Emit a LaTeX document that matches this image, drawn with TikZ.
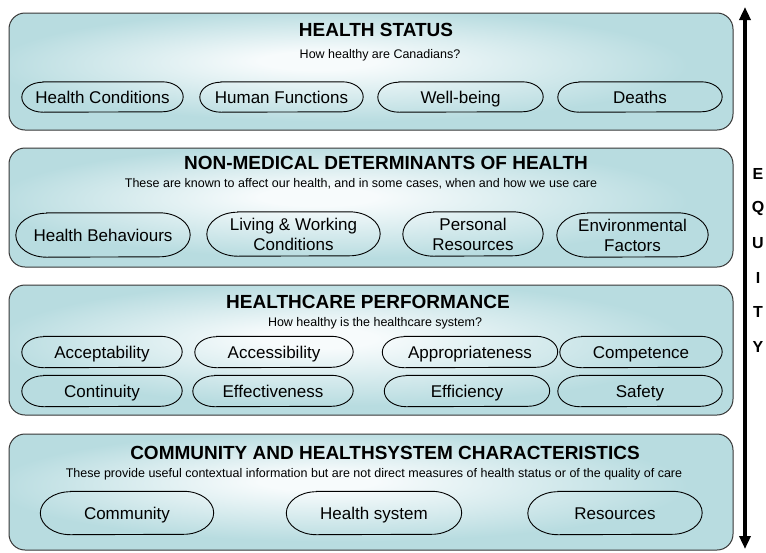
\documentclass[tikz,border=0pt]{standalone}
\usepackage{fontspec}
\setmainfont{Liberation Sans}
\usetikzlibrary{arrows.meta}
\definecolor{boxc}{RGB}{184,220,224}
\definecolor{glowc}{RGB}{247,251,252}
\definecolor{edgec}{RGB}{55,55,55}
\pgfdeclareradialshading{boxglow}{\pgfpoint{-4bp}{5bp}}{color(0bp)=(glowc); color(4bp)=(glowc); color(24bp)=(boxc); color(50bp)=(boxc)}
\tikzset{
  panel/.style={draw=edgec, line width=1pt, rounded corners=16pt, shade, shading=boxglow, inner sep=0pt},
  ptitle/.style={font=\fontsize{19}{22}\selectfont\bfseries, inner sep=0pt},
  psub/.style={font=\fontsize{12.5}{15}\selectfont, inner sep=0pt},
  captext/.style={font=\fontsize{17}{20}\selectfont, align=center, inner sep=0pt, text depth=0pt},
  capline/.style={draw=black, line width=0.9pt},
  letter/.style={font=\fontsize{16}{18}\selectfont\bfseries, inner sep=0pt},
  bigarrow/.style={line width=3.4pt, {Triangle[length=13pt,width=11pt]}-{Triangle[length=13pt,width=11pt]}}
}
\newcommand\capstrut{\rule{0pt}{13pt}}
\newcommand\capsule[6]{%
  \node[captext, minimum width=#4pt, minimum height=#5pt] (#1) at (#2,#3) {\capstrut#6};
  \pgfmathsetmacro\capa{0.7*#5}%
  \pgfmathsetmacro\capb{0.5*#5}%
  \draw[capline] ([xshift=\capa pt]#1.north west) -- ([xshift=-\capa pt]#1.north east)
    arc[start angle=90,end angle=-90,x radius=\capa pt,y radius=\capb pt]
    -- ([xshift=\capa pt]#1.south west)
    arc[start angle=270,end angle=90,x radius=\capa pt,y radius=\capb pt] -- cycle;
}
\begin{document}
\begin{tikzpicture}[x=1pt,y=-1pt]
\useasboundingbox[fill=white] (0,0) rectangle (766,552);
% panels
\node[panel, minimum width=724pt, minimum height=117pt] (p1) at (371,71.5) {};
\node[panel, minimum width=724pt, minimum height=119pt] (p2) at (371,207.5) {};
\node[panel, minimum width=724pt, minimum height=130pt] (p3) at (371,350) {};
\node[panel, minimum width=724pt, minimum height=116pt] (p4) at (371,492) {};
% panel 1
\node[ptitle] (t1) at (376,30) {HEALTH STATUS};
\node[psub] (s1) at (380,55) {How healthy are Canadians?};
\capsule{hc}{102.5}{97}{161}{30}{Health Conditions}
\capsule{hf}{281.5}{97}{163}{30}{Human Functions}
\capsule{wb}{460.5}{97}{165}{30}{Well-being}
\capsule{de}{640}{97}{164}{30}{Deaths}
% panel 2
\node[ptitle] (t2) at (386,163) {NON-MEDICAL DETERMINANTS OF HEALTH};
\node[psub] (s2) at (361,184) {These are known to affect our health, and in some cases, when and how we use care};
\capsule{hb}{103}{235}{174}{44}{Health Behaviours}
\capsule{lw}{293.5}{234}{173}{44}{Living \& Working\\Conditions}
\capsule{pr}{473}{234}{140}{44}{Personal\\Resources}
\capsule{ef}{632.5}{235}{151}{44}{Environmental\\Factors}
% panel 3
\node[ptitle] (t3) at (368,302) {HEALTHCARE PERFORMANCE};
\node[psub] (s3) at (375,323) {How healthy is the healthcare system?};
\capsule{acc}{102}{352}{160}{31}{Acceptability}
\capsule{acs}{274}{352}{158}{31}{Accessibility}
\capsule{app}{470}{352}{175}{31}{Appropriateness}
\capsule{com}{641}{352}{162}{31}{Competence}
\capsule{con}{102}{391}{160}{31}{Continuity}
\capsule{eff}{273}{391}{160}{31}{Effectiveness}
\capsule{efc}{467}{391}{165}{31}{Efficiency}
\capsule{saf}{640}{391}{164}{31}{Safety}
% panel 4
\node[ptitle] (t4) at (385,453) {COMMUNITY AND HEALTHSYSTEM CHARACTERISTICS};
\node[psub] (s4) at (374,474) {These provide useful contextual information but are not direct measures of health status or of the quality of care};
\capsule{cm}{127}{513}{173}{43}{Community}
\capsule{hs}{374}{513}{175}{43}{Health system}
\capsule{rs}{615}{513}{174}{43}{Resources}
% equity arrow
\coordinate (atop) at (745,7);
\coordinate (abot) at (745,549);
\draw[bigarrow] (abot) -- (atop);
\node[letter] (qe) at (758,174) {E};
\node[letter] (qq) at (758,208.5) {Q};
\node[letter] (qu) at (758,243) {U};
\node[letter] (qi) at (758,277.5) {I};
\node[letter] (qt) at (758,312) {T};
\node[letter] (qy) at (758,346.5) {Y};
\end{tikzpicture}
\end{document}
